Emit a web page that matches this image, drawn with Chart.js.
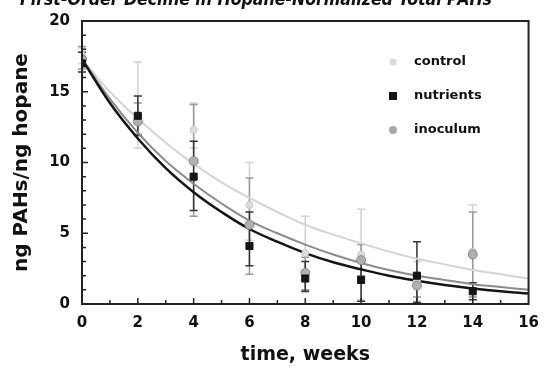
<!DOCTYPE html>
<html><head><meta charset="utf-8">
<script src="https://cdn.jsdelivr.net/npm/chart.js@4"></script>
<style>html,body{margin:0;padding:0;background:#fff;overflow:hidden}#wrap{width:549px;height:366px;position:relative}</style>
</head><body><div id="wrap"><canvas id="c" width="549" height="366"></canvas></div>
<script>
// ---- data ----
const titleText = "First-Order Decline in Hopane-Normalized Total PAHs";
const xTickLabels = ["0","2","4","6","8","10","12","14","16"];
const yTickLabels = ["0","5","10","15","20"];
const seriesNames = ["control","nutrients","inoculum"];

const weeks = [0, 2, 4, 6, 8, 10, 12, 14];
const controlMean = [17.6, 13.2, 12.3, 7.0, 3.6, 3.5, 1.6, 3.7];
const controlHigh = [18.1, 17.1, 14.2, 10.0, 6.2, 6.7, 3.0, 7.0];
const controlLow  = [17.0, 11.0, 11.0, 4.5, 0.8, 0.3, 0.2, 0.5];

const nutrientsMean = [17.0, 13.3, 9.0, 4.1, 1.8, 1.7, 2.0, 0.9];
const nutrientsHigh = [17.8, 14.7, 11.5, 6.5, 3.0, 3.0, 4.4, 1.5];
const nutrientsLow  = [16.4, 11.9, 6.6, 2.7, 0.9, 0.2, 0.1, 0.3];

const inoculumMean = [17.3, 12.9, 10.1, 5.6, 2.2, 3.1, 1.3, 3.5];
const inoculumHigh = [18.2, 14.2, 14.1, 8.9, 3.3, 4.2, 2.2, 6.5];
const inoculumLow  = [16.6, 12.0, 6.2, 2.1, 1.0, 2.0, 0.5, 0.5];

// fitted decay curves, read at each week
const curveWeeks = [0,1,2,3,4,5,6,7,8,9,10,11,12,13,14,15,16];
const controlCurve   = [17.3,15.0,13.1,11.4,9.9,8.6,7.5,6.5,5.6,4.9,4.3,3.7,3.2,2.8,2.4,2.1,1.8];
const nutrientsCurve = [17.3,14.2,11.7,9.6,7.9,6.5,5.3,4.4,3.6,2.95,2.45,2.0,1.65,1.35,1.1,0.9,0.75];
const inoculumCurve  = [17.3,14.5,12.1,10.1,8.5,7.1,5.9,5.0,4.2,3.5,2.9,2.4,2.0,1.7,1.4,1.2,1.0];

// ---- styles ----
const FONT = '"DejaVu Sans", "Liberation Sans", sans-serif';
const colCtl = '#d4d4d4', colNut = '#151515', colIno = '#8c8c8c';
const pts = (xs, ys) => xs.map((v, i) => ({x: v, y: ys[i]}));

const errSeries = [
  {high: controlHigh, low: controlLow, color: '#d2d2d2', w: 1.5},
  {high: inoculumHigh, low: inoculumLow, color: '#9a9a9a', w: 1.5},
  {high: nutrientsHigh, low: nutrientsLow, color: '#333', w: 1.5},
];

const decor = {
  id: 'decor',
  beforeDatasetsDraw(chart) {
    const {ctx, scales: {x, y}} = chart;
    ctx.save();
    errSeries.forEach(s => {
      ctx.strokeStyle = s.color; ctx.lineWidth = s.w;
      weeks.forEach((wk, i) => {
        const px = x.getPixelForValue(wk);
        const yh = y.getPixelForValue(s.high[i]);
        const yl = y.getPixelForValue(s.low[i]);
        ctx.beginPath();
        ctx.moveTo(px, yh); ctx.lineTo(px, yl);
        ctx.moveTo(px - 4, yh); ctx.lineTo(px + 4, yh);
        ctx.moveTo(px - 4, yl); ctx.lineTo(px + 4, yl);
        ctx.stroke();
      });
    });
    ctx.restore();
  },
  afterDraw(chart) {
    const {ctx, chartArea: a, scales: {x, y}} = chart;
    ctx.save();
    // frame
    ctx.strokeStyle = '#222'; ctx.lineWidth = 2;
    ctx.strokeRect(a.left, a.top, a.right - a.left, a.bottom - a.top);
    // inward ticks
    ctx.lineWidth = 1.5;
    ctx.beginPath();
    for (let v = 1; v < 16; v++) {
      const px = x.getPixelForValue(v);
      const len = v % 2 === 0 ? 6 : 4;
      ctx.moveTo(px, a.bottom); ctx.lineTo(px, a.bottom - len);
    }
    for (let v = 1; v < 20; v++) {
      const py = y.getPixelForValue(v);
      const len = v % 5 === 0 ? 6 : 4;
      ctx.moveTo(a.left, py); ctx.lineTo(a.left + len, py);
    }
    ctx.stroke();
    // title (cut off at the top edge)
    ctx.fillStyle = '#111';
    ctx.font = 'italic bold 17px ' + FONT;
    ctx.textAlign = 'center'; ctx.textBaseline = 'alphabetic';
    ctx.fillText(titleText, 256, 5, 472);
    // legend
    const lx = 393, ly = [62, 96, 130];
    ctx.font = 'bold 13px ' + FONT;
    ctx.textAlign = 'left'; ctx.textBaseline = 'middle';
    ctx.fillStyle = '#dcdcdc';
    ctx.beginPath(); ctx.arc(lx, ly[0], 3.5, 0, Math.PI * 2); ctx.fill();
    ctx.fillStyle = colNut;
    ctx.fillRect(lx - 4, ly[1] - 4, 8, 8);
    ctx.fillStyle = '#a8a8a8';
    ctx.beginPath(); ctx.arc(lx, ly[2], 4, 0, Math.PI * 2); ctx.fill();
    ctx.fillStyle = '#111';
    seriesNames.forEach((n, i) => ctx.fillText(n, 414, ly[i]));
    ctx.restore();
  }
};

new Chart(document.getElementById('c'), {
  type: 'scatter',
  data: {
    datasets: [
      {label: 'control fit', data: pts(curveWeeks, controlCurve), showLine: true, borderColor: colCtl, borderWidth: 2, pointRadius: 0, tension: 0.4, fill: false, order: 5},
      {label: 'inoculum fit', data: pts(curveWeeks, inoculumCurve), showLine: true, borderColor: colIno, borderWidth: 2, pointRadius: 0, tension: 0.4, fill: false, order: 4},
      {label: 'nutrients fit', data: pts(curveWeeks, nutrientsCurve), showLine: true, borderColor: colNut, borderWidth: 2.5, pointRadius: 0, tension: 0.4, fill: false, order: 3},
      {label: seriesNames[0], data: pts(weeks, controlMean), showLine: false, pointStyle: 'circle', pointRadius: 3.5, backgroundColor: '#dcdcdc', borderColor: '#c8c8c8', borderWidth: 1, order: 2},
      {label: seriesNames[2], data: pts(weeks, inoculumMean), showLine: false, pointStyle: 'circle', pointRadius: 4.5, backgroundColor: '#b0b0b0', borderColor: '#888', borderWidth: 1, order: 1},
      {label: seriesNames[1], data: pts(weeks, nutrientsMean), showLine: false, pointStyle: 'rect', pointRadius: 5, backgroundColor: colNut, borderColor: colNut, borderWidth: 1, order: 0},
    ]
  },
  options: {
    responsive: false, animation: false,
    layout: {padding: {top: 11, right: 19, left: 0, bottom: 0}},
    plugins: {legend: {display: false}, tooltip: {enabled: false}},
    scales: {
      x: {
        type: 'linear', min: 0, max: 16,
        grid: {display: false, drawTicks: false}, border: {display: false},
        afterBuildTicks: s => { s.ticks = xTickLabels.map(t => ({value: Number(t)})); },
        ticks: {padding: 10, color: '#111', font: {family: FONT, size: 15, weight: 'bold'}, callback: v => String(v)},
        afterFit: s => { s.height = 62; },
        title: {display: true, text: 'time, weeks', color: '#111', padding: {top: 0, bottom: 0}, font: {family: FONT, size: 19, weight: 'bold'}}
      },
      y: {
        type: 'linear', min: 0, max: 20,
        grid: {display: false, drawTicks: false}, border: {display: false},
        afterBuildTicks: s => { s.ticks = yTickLabels.map(t => ({value: Number(t)})); },
        ticks: {padding: 12, color: '#111', font: {family: FONT, size: 15, weight: 'bold'}, callback: v => String(v)},
        afterFit: s => { s.width = 82; },
        title: {display: true, text: 'ng PAHs/ng hopane', color: '#111', padding: {top: 10, bottom: 0}, font: {family: FONT, size: 20, weight: 'bold'}}
      }
    }
  },
  plugins: [decor]
});
</script>
</body></html>
